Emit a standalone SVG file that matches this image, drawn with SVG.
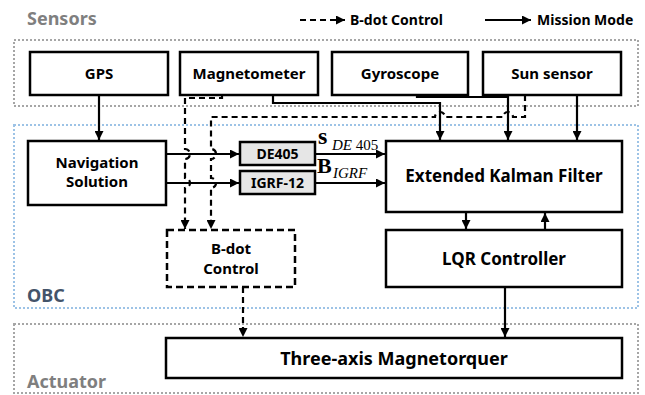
<svg xmlns="http://www.w3.org/2000/svg" width="645" height="395" viewBox="0 0 645 395">
<defs>
<marker id="ah" viewBox="0 0 10 10" refX="10" refY="5" markerWidth="10" markerHeight="9" markerUnits="userSpaceOnUse" orient="auto">
<path d="M0,0 L10,5 L0,10 z" fill="#000"/>
</marker>
</defs>
<style>
.box{fill:#fff;stroke:#000;stroke-width:2.5}
.gbox{fill:#e6e6e6;stroke:#000;stroke-width:2.5}
.dbox{fill:#fff;stroke:#000;stroke-width:2.5;stroke-dasharray:7,4}
.grp{fill:none;stroke-width:2;stroke-dasharray:2,2}
.t{font-family:"Noto Sans","Open Sans",sans-serif;font-weight:bold;fill:#000;text-anchor:middle}
.lt{font-family:"Noto Sans","Open Sans",sans-serif;font-weight:bold;fill:#000;font-size:14px}
.lab{font-family:"Noto Sans","Open Sans",sans-serif;font-weight:bold;font-size:18px}
.s{fill:none;stroke:#000;stroke-width:2.2}
.d{fill:none;stroke:#000;stroke-width:2.2;stroke-dasharray:6,4}
.m{font-family:"Liberation Serif","DejaVu Serif",serif;fill:#000}
</style>

<g id="group-sensors">
<rect class="grp" x="14" y="40" width="624" height="66" stroke="#a6a6a6"/>
<text class="lab" x="27" y="25" fill="#7f7f7f">Sensors</text>
</g>
<g id="group-obc">
<rect class="grp" x="14" y="125" width="624" height="183" stroke="#9dc3e6"/>
<text class="lab" x="27" y="302" fill="#44546a">OBC</text>
</g>
<g id="group-actuator">
<rect class="grp" x="14" y="324" width="624" height="69" stroke="#a6a6a6"/>
<text class="lab" x="27" y="388" fill="#7f7f7f">Actuator</text>
</g>

<g id="legend">
<line class="d" x1="300" y1="20" x2="345" y2="20" marker-end="url(#ah)"/>
<text class="lt" x="350" y="25">B-dot Control</text>
<line class="s" x1="485" y1="20" x2="531" y2="20" marker-end="url(#ah)"/>
<text class="lt" x="537" y="25">Mission Mode</text>
</g>

<g id="gps"><rect class="box" x="30" y="52" width="138" height="43"/><text class="t" x="99" y="79" font-size="15">GPS</text></g>
<g id="magnetometer"><rect class="box" x="180" y="52" width="138" height="43"/><text class="t" x="249" y="79" font-size="15">Magnetometer</text></g>
<g id="gyroscope"><rect class="box" x="332" y="52" width="136" height="43"/><text class="t" x="400" y="79" font-size="15">Gyroscope</text></g>
<g id="sunsensor"><rect class="box" x="483" y="52" width="138" height="43"/><text class="t" x="552" y="79" font-size="15">Sun sensor</text></g>

<g id="navsol"><rect class="box" x="28" y="141" width="138" height="64"/><text class="t" x="97" y="168" font-size="15">Navigation</text><text class="t" x="97" y="187" font-size="15">Solution</text></g>
<g id="de405"><rect class="gbox" x="240" y="142" width="75" height="23"/><text class="t" x="277.5" y="159" font-size="14">DE405</text></g>
<g id="igrf"><rect class="gbox" x="240" y="171" width="75" height="23"/><text class="t" x="277.5" y="188" font-size="14">IGRF-12</text></g>
<g id="ekf"><rect class="box" x="386" y="141" width="236" height="71"/><text class="t" x="504" y="182" font-size="17">Extended Kalman Filter</text></g>
<g id="bdot"><rect class="dbox" x="167" y="230" width="128" height="57"/><text class="t" x="231" y="254" font-size="15">B-dot</text><text class="t" x="231" y="274" font-size="15">Control</text></g>
<g id="lqr"><rect class="box" x="386" y="230" width="236" height="57"/><text class="t" x="504" y="265" font-size="17">LQR Controller</text></g>
<g id="magnetorquer"><rect class="box" x="166" y="338" width="456" height="40"/><text class="t" x="394" y="365" font-size="18">Three-axis Magnetorquer</text></g>

<g id="labels">
<text class="m" x="318" y="144" font-size="24" font-weight="bold">s</text>
<text class="m" x="332" y="150" font-size="15"><tspan font-style="italic">DE</tspan> 405</text>
<text class="m" x="317" y="173" font-size="22" font-weight="bold">B</text>
<text class="m" x="333" y="178" font-size="15" font-style="italic">IGRF</text>
</g>

<g id="connectors">
<path class="s" d="M99,95 V140" marker-end="url(#ah)"/>
<path class="s" d="M166,154 H239" marker-end="url(#ah)"/>
<path class="s" d="M166,183 H239" marker-end="url(#ah)"/>
<path class="s" d="M315,154 H385" marker-end="url(#ah)"/>
<path class="s" d="M315,183 H385" marker-end="url(#ah)"/>
<path class="s" d="M273,95 V103 H440 V140" marker-end="url(#ah)"/>
<path class="s" d="M417,95 V97 H508 V140" marker-end="url(#ah)"/>
<path class="s" d="M577,95 V140" marker-end="url(#ah)"/>
<path class="s" d="M466,212 V229" marker-end="url(#ah)"/>
<path class="s" d="M545,230 V213" marker-end="url(#ah)"/>
<path class="s" d="M505,287 V337" marker-end="url(#ah)"/>
<path class="d" d="M222,95 V98 H185 V149 A5,5 0 0 1 185,159 V178 A5,5 0 0 1 185,188 V229" marker-end="url(#ah)"/>
<path class="d" d="M525,95 V117 H513 A5,5 0 0 0 503,117 H445 A5,5 0 0 0 435,117 H211 V149 A5,5 0 0 1 211,159 V178 A5,5 0 0 1 211,188 V229" marker-end="url(#ah)"/>
<path class="d" d="M243,287 V337" marker-end="url(#ah)"/>
</g>
</svg>
